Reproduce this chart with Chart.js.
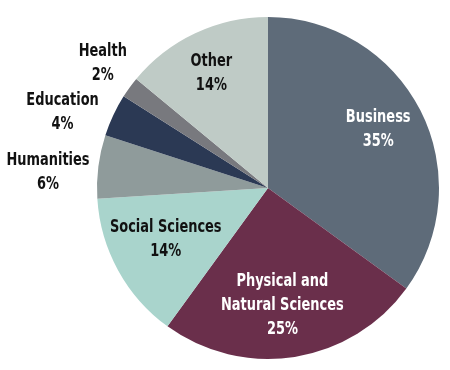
<!DOCTYPE html>
<html>
<head>
<meta charset="utf-8">
<script src="https://cdn.jsdelivr.net/npm/chart.js@4"></script>
<style>
  html, body { margin:0; padding:0; background:#fff; }
  canvas { display:block; }
</style>
</head>
<body>
<canvas id="pie" width="450" height="370"></canvas>
<script>
// majors, clockwise from 12 o'clock
const categories = ['Business', 'Physical and\nNatural Sciences', 'Social Sciences', 'Humanities', 'Education', 'Health', 'Other'];
const shares = [35, 25, 14, 6, 4, 2, 14];
const colors = ['#5e6b79', '#6a2f4b', '#a9d4cc', '#8f9b9b', '#2b3954', '#78797e', '#bfcbc6'];

// where each label sits: radius as a fraction of the pie radius, and angle nudge in degrees
const labelPos = [
  { r:0.73, da:-1, color:'#fff' },
  { r:0.69, da:2,  color:'#fff' },
  { r:0.67, da:2,  color:'#111' },
  { r:1.29, da:-3, color:'#111' },
  { r:1.28, da:-5, color:'#111' },
  { r:1.21, da:1,  color:'#111' },
  { r:0.75, da:-1, color:'#111' }
];

const FONT = 'bold 18px "Liberation Sans Narrow", "DejaVu Sans Condensed", sans-serif';
const SQUEEZE = 0.8; // fake a condensed face

const labelsPlugin = {
  id:'sliceLabels',
  afterDatasetsDraw(chart){
    const ctx = chart.ctx;
    const arcs = chart.getDatasetMeta(0).data;
    ctx.save();
    ctx.font = FONT;
    ctx.textAlign = 'center';
    ctx.textBaseline = 'middle';
    arcs.forEach((arc, i)=>{
      const p = labelPos[i];
      const mid = (arc.startAngle + arc.endAngle)/2 + p.da*Math.PI/180;
      const rr = arc.outerRadius * p.r;
      const x = arc.x + Math.cos(mid)*rr;
      const y = arc.y + Math.sin(mid)*rr;
      const lines = categories[i].split('\n').concat([shares[i] + '%']);
      const lh = 24;
      const y0 = y - (lines.length-1)*lh/2;
      ctx.fillStyle = p.color;
      lines.forEach((t, k)=>{
        ctx.save();
        ctx.translate(x, y0 + k*lh);
        ctx.scale(SQUEEZE, 1);
        ctx.fillText(t, 0, 0);
        ctx.restore();
      });
    });
    ctx.restore();
  }
};

new Chart(document.getElementById('pie'), {
  type:'pie',
  data:{
    labels: categories,
    datasets:[{ data: shares, backgroundColor: colors, borderWidth:0 }]
  },
  options:{
    responsive:false,
    animation:false,
    layout:{ padding:{ left:97, right:11, top:17, bottom:11 } },
    plugins:{ legend:{ display:false }, tooltip:{ enabled:false } }
  },
  plugins:[labelsPlugin]
});
</script>
</body>
</html>
